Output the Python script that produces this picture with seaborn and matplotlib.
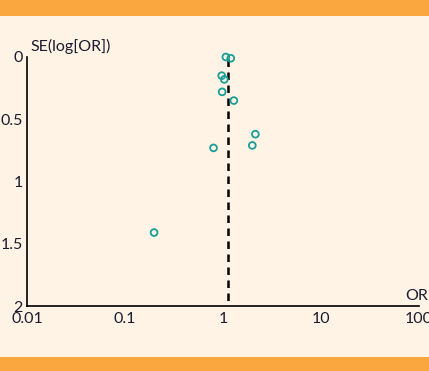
import numpy as np
import pandas as pd
import matplotlib
matplotlib.use("Agg")
import matplotlib.pyplot as plt
import seaborn as sns
from matplotlib.patches import Rectangle
from matplotlib.ticker import FixedLocator, FixedFormatter, NullLocator

odds_ratio = [1.07, 1.20, 0.97, 1.03, 0.98, 1.29, 2.14, 1.99, 0.80, 0.198]
se_log_or = [0.00, 0.01, 0.15, 0.18, 0.28, 0.35, 0.62, 0.71, 0.73, 1.41]
pooled_or = 1.125
x_ticks = [0.01, 0.1, 1, 10, 100]
x_tick_labels = ["0.01", "0.1", "1", "10", "100"]
y_ticks = [0, 0.5, 1, 1.5, 2]
y_tick_labels = ["0", "0.5", "1", "1.5", "2"]

df = pd.DataFrame({"OR": odds_ratio, "SE": se_log_or})

BG = "#fef3e4"
ORANGE = "#f9a73e"
TEAL = "#1a9e96"
TXT = "#1c1c30"

sns.set_style("white")
plt.rcParams['font.family'] = ['Lato', 'DejaVu Sans']

fig = plt.figure(figsize=(4.29, 3.71), dpi=100, facecolor=BG)
W, H = 429, 371
ax = fig.add_axes([27 / W, 1 - 306 / H, (419 - 27) / W, (306 - 57) / H])
ax.set_facecolor(BG)
ax.patch.set_alpha(0)

fig.patches.append(Rectangle((0, 1 - 16 / H), 1, 16 / H, transform=fig.transFigure,
                             facecolor=ORANGE, edgecolor='none', zorder=0))
fig.patches.append(Rectangle((0, 0), 1, 14 / H, transform=fig.transFigure,
                             facecolor=ORANGE, edgecolor='none', zorder=0))

ax.plot([pooled_or, pooled_or], [0.02, 2], color='black', linestyle=(0, (3, 2.2)),
        linewidth=1.8, zorder=2)

sns.scatterplot(data=df, x="OR", y="SE", ax=ax, marker='o', s=24,
                facecolors='none', edgecolor=TEAL, linewidth=1.3, zorder=3,
                legend=False, clip_on=False)

ax.set_xscale('log')
ax.set_xlim(0.01, 100)
ax.set_ylim(2, 0)
ax.xaxis.set_major_locator(FixedLocator(x_ticks))
ax.xaxis.set_major_formatter(FixedFormatter(x_tick_labels))
ax.xaxis.set_minor_locator(NullLocator())
ax.yaxis.set_major_locator(FixedLocator(y_ticks))
ax.yaxis.set_major_formatter(FixedFormatter(y_tick_labels))

for s in ['top', 'right']:
    ax.spines[s].set_visible(False)
for s in ['left', 'bottom']:
    ax.spines[s].set_color('black')
    ax.spines[s].set_linewidth(1.2)

ax.tick_params(axis='both', direction='inout', length=6, width=1.2, color='black',
               labelsize=11.5, labelcolor=TXT, pad=1)
ax.tick_params(axis='y', pad=0)
ax.set_xlabel("")
ax.set_ylabel("")

fig.text(30 / W, 1 - 46 / H, "SE(log[OR])", fontsize=11.5, color=TXT, ha='left', va='center')
fig.text(428 / W, 1 - 296 / H, "OR", fontsize=11.5, color=TXT, ha='right', va='center')

fig.savefig("out.png", dpi=100, facecolor=BG)
